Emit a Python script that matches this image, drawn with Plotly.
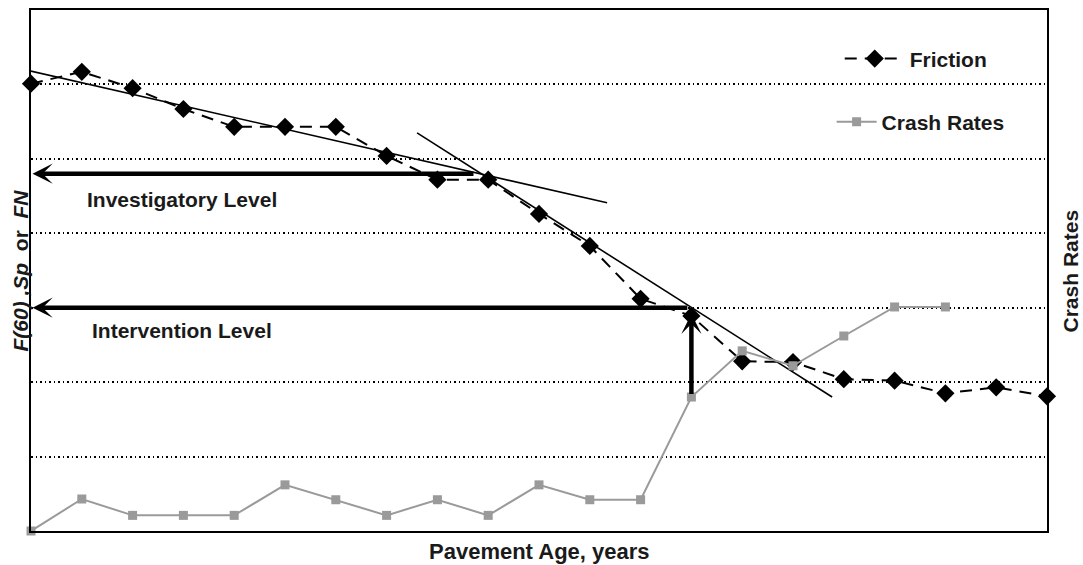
import plotly.graph_objects as go

# ---------------- data ----------------
age_years = list(range(21))
friction = [6.01, 6.17, 5.95, 5.67, 5.43, 5.43, 5.43, 5.04, 4.72, 4.72, 4.26,
            3.83, 3.12, 2.89, 2.28, 2.27, 2.04, 2.02, 1.85, 1.93, 1.81]
crash_age = list(range(19))
crash_rates = [0.0, 0.43, 0.21, 0.21, 0.21, 0.62, 0.42, 0.21, 0.42, 0.21, 0.62,
               0.42, 0.42, 1.80, 2.42, 2.22, 2.62, 3.01, 3.01]

trend1_x = [-0.26, 11.34]
trend1_y = [6.22, 4.41]
trend2_x = [7.6, 15.77]
trend2_y = [5.35, 1.80]

investigatory_level = 4.80
investigatory_age = 8.74
intervention_level = 3.00
intervention_age = 12.95
intervention_crash = 1.82

grid_values = [0, 1, 2, 3, 4, 5, 6, 7]

FONT = "Liberation Sans, Arial, sans-serif"
TXT = "#1a1a1a"

fig = go.Figure()

fig.add_trace(go.Scatter(
    x=trend1_x, y=trend1_y, mode="lines",
    line=dict(color="black", width=1.6), showlegend=False, hoverinfo="skip"))
fig.add_trace(go.Scatter(
    x=trend2_x, y=trend2_y, mode="lines",
    line=dict(color="black", width=1.6), showlegend=False, hoverinfo="skip"))

fig.add_trace(go.Scatter(
    x=crash_age, y=crash_rates, name="<b>Crash Rates</b>", mode="lines+markers",
    line=dict(color="#9a9a9a", width=2),
    marker=dict(symbol="square", size=9, color="#9a9a9a"),
    cliponaxis=False, yaxis="y2", legend="legend2"))

fig.add_trace(go.Scatter(
    x=age_years, y=friction, name="<b>Friction</b>", mode="lines+markers",
    line=dict(color="black", width=2, dash="12px,8px"),
    marker=dict(symbol="diamond", size=14, color="black"),
    cliponaxis=False, legend="legend"))

# arrows
arrow_common = dict(xref="x", yref="y", axref="x", ayref="y", showarrow=True,
                    arrowhead=3, arrowsize=0.75, arrowwidth=4.5, arrowcolor="black",
                    text="")
fig.add_annotation(x=0.03, y=investigatory_level, ax=investigatory_age,
                   ay=investigatory_level, **arrow_common)
fig.add_annotation(x=0.03, y=intervention_level, ax=intervention_age,
                   ay=intervention_level, **arrow_common)
fig.add_annotation(x=intervention_age + 0.05, y=intervention_level - 0.08,
                   ax=intervention_age + 0.05, ay=intervention_crash, **arrow_common)

lab_font = dict(family=FONT, size=21, color=TXT)
fig.add_annotation(x=1.06, y=4.46, xref="x", yref="y", text="<b>Investigatory Level</b>",
                   showarrow=False, xanchor="left", yanchor="middle", font=lab_font)
fig.add_annotation(x=1.16, y=2.69, xref="x", yref="y", text="<b>Intervention Level</b>",
                   showarrow=False, xanchor="left", yanchor="middle", font=lab_font)

# axis titles
fig.add_annotation(x=0.5, y=-0.040, xref="paper", yref="paper",
                   text="<b>Pavement Age, years</b>", showarrow=False,
                   xanchor="center", yanchor="middle",
                   font=dict(family=FONT, size=22, color=TXT))
fig.add_annotation(x=-0.0108, y=0.50, xref="paper", yref="paper",
                   text="<b><i>F(60)</i> <i>,Sp</i>&nbsp;&nbsp;or&nbsp;&nbsp;<i>FN</i></b>",
                   showarrow=False,
                   textangle=-90, xanchor="center", yanchor="middle",
                   font=dict(family=FONT, size=21, color=TXT))
fig.add_annotation(x=1.0236, y=0.50, xref="paper", yref="paper",
                   text="<b>Crash Rates</b>", showarrow=False,
                   textangle=-90, xanchor="center", yanchor="middle",
                   font=dict(family=FONT, size=21, color=TXT))

fig.update_layout(
    width=1083, height=565,
    margin=dict(l=31, r=36, t=10, b=34, autoexpand=False),
    paper_bgcolor="white", plot_bgcolor="white",
    font=dict(family=FONT, color=TXT),
    xaxis=dict(range=[0, 20], showgrid=False, zeroline=False, showticklabels=False,
               ticks="", showline=True, linecolor="black", linewidth=1.5, mirror=True),
    yaxis=dict(range=[0, 7], tickvals=grid_values, showticklabels=False, ticks="",
               showgrid=True, gridcolor="black", gridwidth=1.5, griddash="1.5px,3px",
               zeroline=False, showline=True, linecolor="black", linewidth=1.5,
               mirror=True),
    yaxis2=dict(range=[0, 7], overlaying="y", side="right", showgrid=False,
                showticklabels=False, ticks="", zeroline=False, showline=False),
    legend=dict(x=0.796, y=0.906, xanchor="left", yanchor="middle",
                bgcolor="rgba(0,0,0,0)", itemwidth=60,
                font=dict(family=FONT, size=21, color=TXT)),
    legend2=dict(x=0.788, y=0.785, xanchor="left", yanchor="middle",
                 bgcolor="rgba(0,0,0,0)", itemwidth=40,
                 font=dict(family=FONT, size=21, color=TXT)),
    showlegend=True,
)

fig.write_html(
    "out.html",
    config={"displayModeBar": False},
    post_script="document.body.style.margin='0';document.body.style.overflow='hidden';",
)
